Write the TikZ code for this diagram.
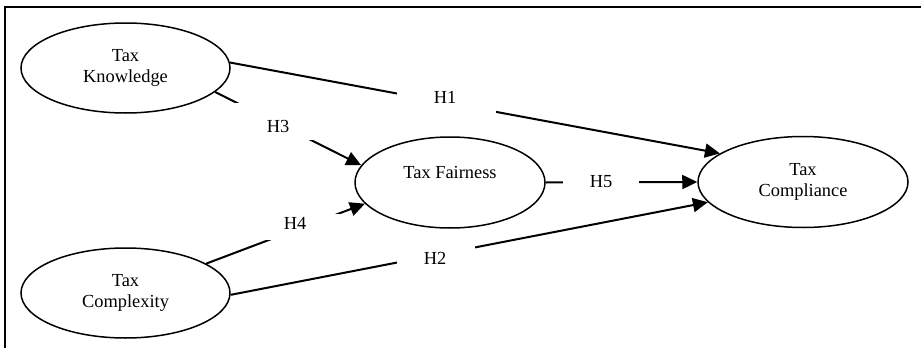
\documentclass[tikz,border=0pt]{standalone}
\usepackage{fontspec}
\setmainfont{Liberation Serif}
\usetikzlibrary{arrows.meta,shapes.geometric}
\begin{document}
\begin{tikzpicture}[x=1pt,y=-1pt,
  construct/.style={ellipse, draw, line width=1.5pt, inner sep=0pt, align=center,
    font=\fontsize{18.4}{21}\selectfont},
  hpath/.style={line width=2pt, -{Triangle[length=15pt,width=14pt]}},
  gapbox/.style={fill=white, inner sep=0pt},
  hyp/.style={inner sep=0pt, font=\fontsize{18.4}{21}\selectfont}]
\useasboundingbox (0,0) rectangle (921,348);
% frame
\draw[line width=1.3pt] (5,348) -- (5,7) -- (921,7);
% constructs
\node[construct, minimum width=209pt, minimum height=90pt] (tk) at (125.5,68) {Tax\\Knowledge};
\node[construct, minimum width=209pt, minimum height=90pt] (tx) at (125.5,293) {Tax\\Complexity};
\node[construct, minimum width=190pt, minimum height=91pt] (tf) at (450,182.5) {Tax Fairness\\\mbox{}};
\node[construct, minimum width=210pt, minimum height=91pt] (tc) at (803,182) {Tax\\Compliance};
% paths
\draw[hpath] (tk.3.8) -- (tc.161.2);
\draw[hpath] (tk.-15.5) -- (tf.169.8);
\draw[hpath] (tx.20.7) -- (tf.194.9);
\draw[hpath] (tx.-1.6) -- (tc.192.5);
\draw[hpath] (tf.east) -- (tc.west);
% label boxes (white, interrupt the paths)
\node[gapbox, minimum width=99pt, minimum height=32pt] (g1) at (446.5,99) {};
\node[gapbox, minimum width=78pt, minimum height=28pt] (g2) at (436,258) {};
\node[gapbox, minimum width=88pt, minimum height=37pt] (g3) at (276,121.5) {};
\node[gapbox, minimum width=90pt, minimum height=26pt] (g4) at (307,227) {};
\node[gapbox, minimum width=76pt, minimum height=24pt] (g5) at (601,182) {};
% labels
\node[hyp] (h1) at (445,97) {H1};
\node[hyp] (h2) at (435,258) {H2};
\node[hyp] (h3) at (278,126) {H3};
\node[hyp] (h4) at (295,223) {H4};
\node[hyp] (h5) at (601,182) {H5};
\end{tikzpicture}
\end{document}
